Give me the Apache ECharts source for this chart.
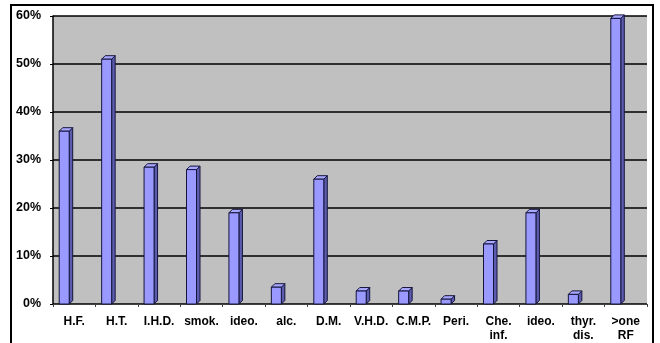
<!DOCTYPE html>
<html>
<head>
<meta charset="utf-8">
<script src="https://cdn.jsdelivr.net/npm/echarts@6/dist/echarts.min.js"></script>
<style>
  html, body { margin: 0; padding: 0; background: #fff; }
  #chart { width: 660px; height: 343px; }
</style>
</head>
<body>
<div id="chart"></div>
<script>
// Risk factor categories and their share of patients (%)
const categories = ['H.F.', 'H.T.', 'I.H.D.', 'smok.', 'ideo.', 'alc.', 'D.M.', 'V.H.D.', 'C.M.P.', 'Peri.', 'Che.\ninf.', 'ideo.', 'thyr.\ndis.', '>one\nRF'];
const percentages = [36, 51, 28.5, 28, 19, 3.5, 26, 2.7, 2.7, 1, 12.5, 19, 2, 59.5];
const yTicks = [0, 10, 20, 30, 40, 50, 60];

const chart = echarts.init(document.getElementById('chart'));

// Column drawn as a small box: front face, right side and top face
function renderColumn(params, api) {
  const idx = api.value(0);
  const top = api.coord([idx, api.value(1)]);
  const base = api.coord([idx, 0]);
  const w = 10, d = 3.5, shift = -10;
  const x0 = top[0] + shift - w / 2;
  const yt = top[1], yb = base[1];
  const stroke = '#14143c';
  return {
    type: 'group',
    children: [
      {
        type: 'polygon',
        shape: { points: [[x0 + w, yt], [x0 + w + d, yt - d], [x0 + w + d, yb - d], [x0 + w, yb]] },
        style: { fill: '#5c5cae', stroke: stroke, lineWidth: 1 }
      },
      {
        type: 'polygon',
        shape: { points: [[x0, yt], [x0 + d, yt - d], [x0 + w + d, yt - d], [x0 + w, yt]] },
        style: { fill: '#a8a8ff', stroke: stroke, lineWidth: 1 }
      },
      {
        type: 'rect',
        shape: { x: x0, y: yt, width: w, height: yb - yt },
        style: { fill: '#9999ff', stroke: stroke, lineWidth: 1 }
      }
    ]
  };
}

chart.setOption({
  animation: false,
  backgroundColor: '#ffffff',
  grid: {
    left: 53, right: 13, top: 16, bottom: 38,
    show: true, backgroundColor: '#c0c0c0', borderWidth: 0
  },
  xAxis: {
    type: 'category',
    data: categories,
    boundaryGap: true,
    axisLine: { show: true, lineStyle: { color: '#404040', width: 1 } },
    axisTick: { show: true, length: 3, lineStyle: { color: '#404040' } },
    axisLabel: {
      interval: 0,
      margin: 11,
      color: '#000',
      fontFamily: 'Liberation Sans, Arial, sans-serif',
      fontWeight: 'bold',
      fontSize: 12,
      lineHeight: 14
    }
  },
  yAxis: {
    type: 'value',
    min: yTicks[0],
    max: yTicks[yTicks.length - 1],
    interval: 10,
    axisLine: { show: true, lineStyle: { color: '#000', width: 1.5 } },
    axisTick: { show: true, length: 3, lineStyle: { color: '#000' } },
    splitLine: { show: true, lineStyle: { color: '#000', width: 1.5 } },
    axisLabel: {
      margin: 12,
      color: '#000',
      fontFamily: 'Liberation Sans, Arial, sans-serif',
      fontWeight: 'bold',
      fontSize: 12.5,
      formatter: '{value}%'
    }
  },
  graphic: [
    {
      type: 'rect',
      shape: { x: 11, y: 5, width: 642, height: 345 },
      style: { fill: 'none', stroke: '#000', lineWidth: 2 },
      silent: true
    }
  ],
  series: [
    {
      type: 'custom',
      renderItem: renderColumn,
      encode: { x: 0, y: 1 },
      data: percentages.map((v, i) => [i, v])
    }
  ]
});
</script>
</body>
</html>
